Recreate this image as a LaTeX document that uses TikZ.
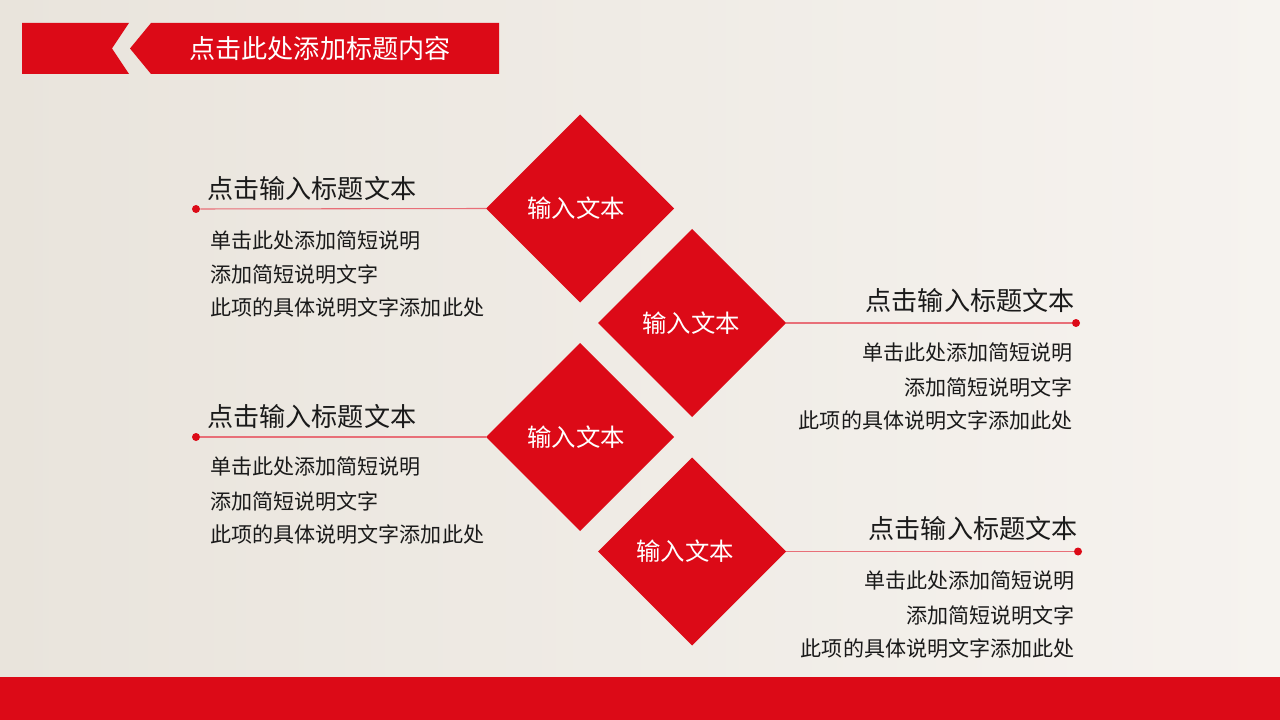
\documentclass[tikz,border=0pt]{standalone}
\usepackage{fontspec}
\setmainfont{Noto Sans CJK SC}
\usetikzlibrary{shapes.geometric}
\definecolor{mred}{HTML}{DC0A17}
\definecolor{lred}{HTML}{E86F78}
\definecolor{bgl}{HTML}{E9E4DC}
\definecolor{bgr}{HTML}{F6F3EF}
\definecolor{txt}{HTML}{1A1A1A}
\tikzset{
  dia/.style={shape=diamond, aspect=1, fill=mred, inner sep=0pt, outer sep=0pt,
    minimum width=141pt, minimum height=141pt, text=white, font=\fontsize{18.3pt}{20pt}\selectfont},
  dot/.style={circle, fill=mred, inner sep=0pt, minimum size=6pt},
  conn/.style={draw=lred, line width=0.8pt},
  ttl/.style={inner sep=0pt, text=txt, font=\fontsize{19.6pt}{22pt}\selectfont},
  body/.style={inner sep=0pt, text=txt, font=\fontsize{15.8pt}{18pt}\selectfont},
}
\begin{document}
\begin{tikzpicture}[x=0.75pt,y=-0.75pt]
\useasboundingbox (0,0) rectangle (1280,720);
\shade[left color=bgl, right color=bgr] (0,0) rectangle (1280,720);
% bottom bar
\fill[mred] (0,677) rectangle (1280,720);
% header
\fill[mred] (22,23) -- (129,23) -- (112,48.5) -- (129,74) -- (22,74) -- cycle;
\fill[mred] (151,23) -- (499,23) -- (499,74) -- (151,74) -- (130,48.5) -- cycle;
\node[inner sep=0pt, text=white, font=\fontsize{19.6pt}{22pt}\selectfont] (hdr) at (320,48.5) {点击此处添加标题内容};
% diamonds
\node[dia] (d1) at (580,208.5) {\hspace*{-6pt}输入文本};
\node[dia] (d2) at (692,323) {\hspace*{-1.5pt}输入文本};
\node[dia] (d3) at (580,437) {\hspace*{-6pt}输入文本};
\node[dia] (d4) at (692,551.5) {\hspace*{-10pt}输入文本};
% dots
\node[dot] (p1) at (196,209) {};
\node[dot] (p2) at (1076,323) {};
\node[dot] (p3) at (196,437) {};
\node[dot] (p4) at (1078,551.5) {};
% connectors
\draw[conn] (p1) -- (d1.west);
\draw[conn] (d2.east) -- (p2);
\draw[conn] (p3) -- (d3.west);
\draw[conn] (d4.east) -- (p4);
% block 1 (left)
\node[ttl, anchor=west] (t1) at (207,188) {点击输入标题文本};
\node[body, anchor=west] (b1a) at (210,241) {单击此处添加简短说明};
\node[body, anchor=west] (b1b) at (210,274) {添加简短说明文字};
\node[body, anchor=west] (b1c) at (210,307) {此项的具体说明文字添加此处};
% block 2 (right)
\node[ttl, anchor=east] (t2) at (1075,300) {点击输入标题文本};
\node[body, anchor=east] (b2a) at (1073,353) {单击此处添加简短说明};
\node[body, anchor=east] (b2b) at (1073,387) {添加简短说明文字};
\node[body, anchor=east] (b2c) at (1073,420) {此项的具体说明文字添加此处};
% block 3 (left)
\node[ttl, anchor=west] (t3) at (207,416) {点击输入标题文本};
\node[body, anchor=west] (b3a) at (210,467) {单击此处添加简短说明};
\node[body, anchor=west] (b3b) at (210,501) {添加简短说明文字};
\node[body, anchor=west] (b3c) at (210,534) {此项的具体说明文字添加此处};
% block 4 (right)
\node[ttl, anchor=east] (t4) at (1078,528) {点击输入标题文本};
\node[body, anchor=east] (b4a) at (1075,581) {单击此处添加简短说明};
\node[body, anchor=east] (b4b) at (1075,615) {添加简短说明文字};
\node[body, anchor=east] (b4c) at (1075,648) {此项的具体说明文字添加此处};
\end{tikzpicture}
\end{document}
